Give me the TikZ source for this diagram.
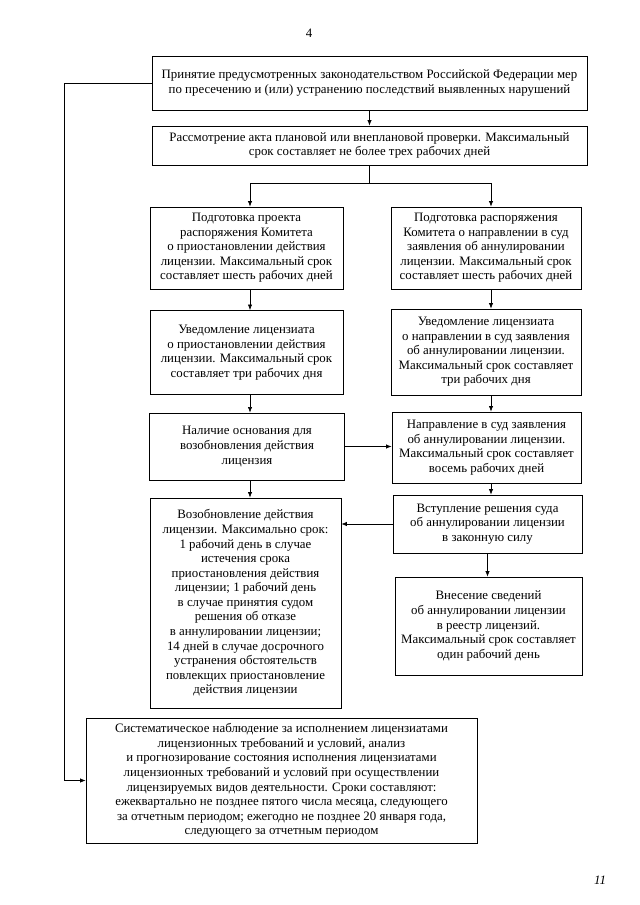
\documentclass[tikz,border=0pt]{standalone}
\usepackage{fontspec}
\setmainfont{Liberation Serif}
\usetikzlibrary{calc, positioning, arrows.meta}

\begin{document}
\begin{tikzpicture}[
  x=0.328mm, y=-0.328mm,
  stage/.style={
    rectangle, draw=black, line width=0.7pt,
    font=\fontsize{12}{13.6}\selectfont,
    align=center, inner sep=1pt
  },
  arr/.style={
    -{Latex[length=1.8mm, width=1.4mm]}, line width=0.6pt
  }
]
\useasboundingbox (0,0) rectangle (640,905);

%% ── Номер страницы ──────────────────────────────────────────────────────────
\node[font=\fontsize{12}{13.6}\selectfont] (pagenum) at (309, 33) {4};

%% ── Верхние этапы ───────────────────────────────────────────────────────────
\node[stage, minimum width=142.7mm, minimum height=17.7mm] (act) at (369.5, 83)
  {Принятие предусмотренных законодательством Российской Федерации мер\\
   по пресечению и (или) устранению последствий выявленных нарушений};

\node[stage, minimum width=142.7mm, minimum height=12.8mm] (review) at (369.5, 145.5)
  {Рассмотрение акта плановой или внеплановой проверки. Максимальный\\
   срок составляет не более трех рабочих дней};

%% ── Левая ветвь: приостановление ────────────────────────────────────────────
\node[stage, minimum width=63.3mm, minimum height=26.9mm] (prepL) at (246.5, 248)
  {Подготовка проекта\\распоряжения Комитета\\о приостановлении действия\\
   лицензии. Максимальный срок\\составляет шесть рабочих дней};

\node[stage, minimum width=63.3mm, minimum height=27.6mm] (notifL) at (246.5, 352.5)
  {Уведомление лицензиата\\о приостановлении действия\\
   лицензии. Максимальный срок\\составляет три рабочих дня};

\node[stage, minimum width=64.0mm, minimum height=22.0mm] (basisL) at (247, 446.5)
  {Наличие основания для\\возобновления действия\\лицензия};

\node[stage, minimum width=62.6mm, minimum height=68.9mm] (renewL) at (245.5, 603)
  {Возобновление действия\\лицензии. Максимально срок:\\1 рабочий день в случае\\
   истечения срока\\приостановления действия\\лицензии; 1 рабочий день\\
   в случае принятия судом\\решения об отказе\\в аннулировании лицензии;\\
   14 дней в случае досрочного\\устранения обстоятельств\\
   повлекщих приостановление\\действия лицензии};

%% ── Правая ветвь: аннулирование ─────────────────────────────────────────────
\node[stage, minimum width=62.3mm, minimum height=26.9mm] (prepR) at (486, 248)
  {Подготовка распоряжения\\Комитета о направлении в суд\\заявления об аннулировании\\
   лицензии. Максимальный срок\\составляет шесть рабочих дней};

\node[stage, minimum width=62.3mm, minimum height=28.2mm] (notifR) at (486, 352)
  {Уведомление лицензиата\\о направлении в суд заявления\\об аннулировании лицензии.\\
   Максимальный срок составляет\\три рабочих дня};

\node[stage, minimum width=62.0mm, minimum height=23.3mm] (courtR) at (486.5, 447.5)
  {Направление в суд заявления\\об аннулировании лицензии.\\
   Максимальный срок составляет\\восемь рабочих дней};

\node[stage, minimum width=62.0mm, minimum height=19.0mm] (forceR) at (487.5, 524)
  {Вступление решения суда\\об аннулировании лицензии\\в законную силу};

\node[stage, minimum width=61.3mm, minimum height=32.1mm] (registerR) at (488.5, 626)
  {Внесение сведений\\об аннулировании лицензии\\в реестр лицензий.\\
   Максимальный срок составляет\\один рабочий день};

%% ── Наблюдение (внизу) ──────────────────────────────────────────────────────
\node[stage, minimum width=128.2mm, minimum height=41.0mm] (monitor) at (281.5, 780.5)
  {Систематическое наблюдение за исполнением лицензиатами\\
   лицензионных требований и условий, анализ\\
   и прогнозирование состояния исполнения лицензиатами\\
   лицензионных требований и условий при осуществлении\\
   лицензируемых видов деятельности. Сроки составляют:\\
   ежеквартально не позднее пятого числа месяца, следующего\\
   за отчетным периодом; ежегодно не позднее 20 января года,\\
   следующего за отчетным периодом};

%% пометка на полях
\node[font=\itshape\fontsize{12}{13.6}\selectfont] (folio) at (600, 880) {11};

%% ────────────────── СТРЕЛКИ ─────────────────────────────────────────────────
\coordinate (colL) at (250, 183);
\coordinate (colR) at (491, 183);
\coordinate (loop) at (64, 83);

\draw[arr] (act.south) -- (review.north);

%% развилка
\draw[line width=0.6pt] (review.south) -- (review.south |- colL);
\draw[arr] (review.south |- colL) -| (prepL.north -| colL);
\draw[arr] (review.south |- colL) -| (prepR.north -| colR);

%% левая колонка
\draw[arr] (prepL.south -| colL) -- (notifL.north -| colL);
\draw[arr] (notifL.south -| colL) -- (basisL.north -| colL);
\draw[arr] (basisL.south -| colL) -- (renewL.north -| colL);

%% правая колонка
\draw[arr] (prepR.south -| colR) -- (notifR.north -| colR);
\draw[arr] (notifR.south -| colR) -- (courtR.north -| colR);
\draw[arr] (courtR.south -| colR) -- (forceR.north -| colR);
\draw[arr] (forceR.south) -- (forceR.south |- registerR.north);

%% поперечные связи
\draw[arr] (basisL.east) -- (basisL.east -| courtR.west);
\draw[arr] (forceR.west) -- (forceR.west -| renewL.east);

%% обходная линия к наблюдению
\draw[arr] (act.west) -- (loop) |- (monitor.west);

\end{tikzpicture}
\end{document}
